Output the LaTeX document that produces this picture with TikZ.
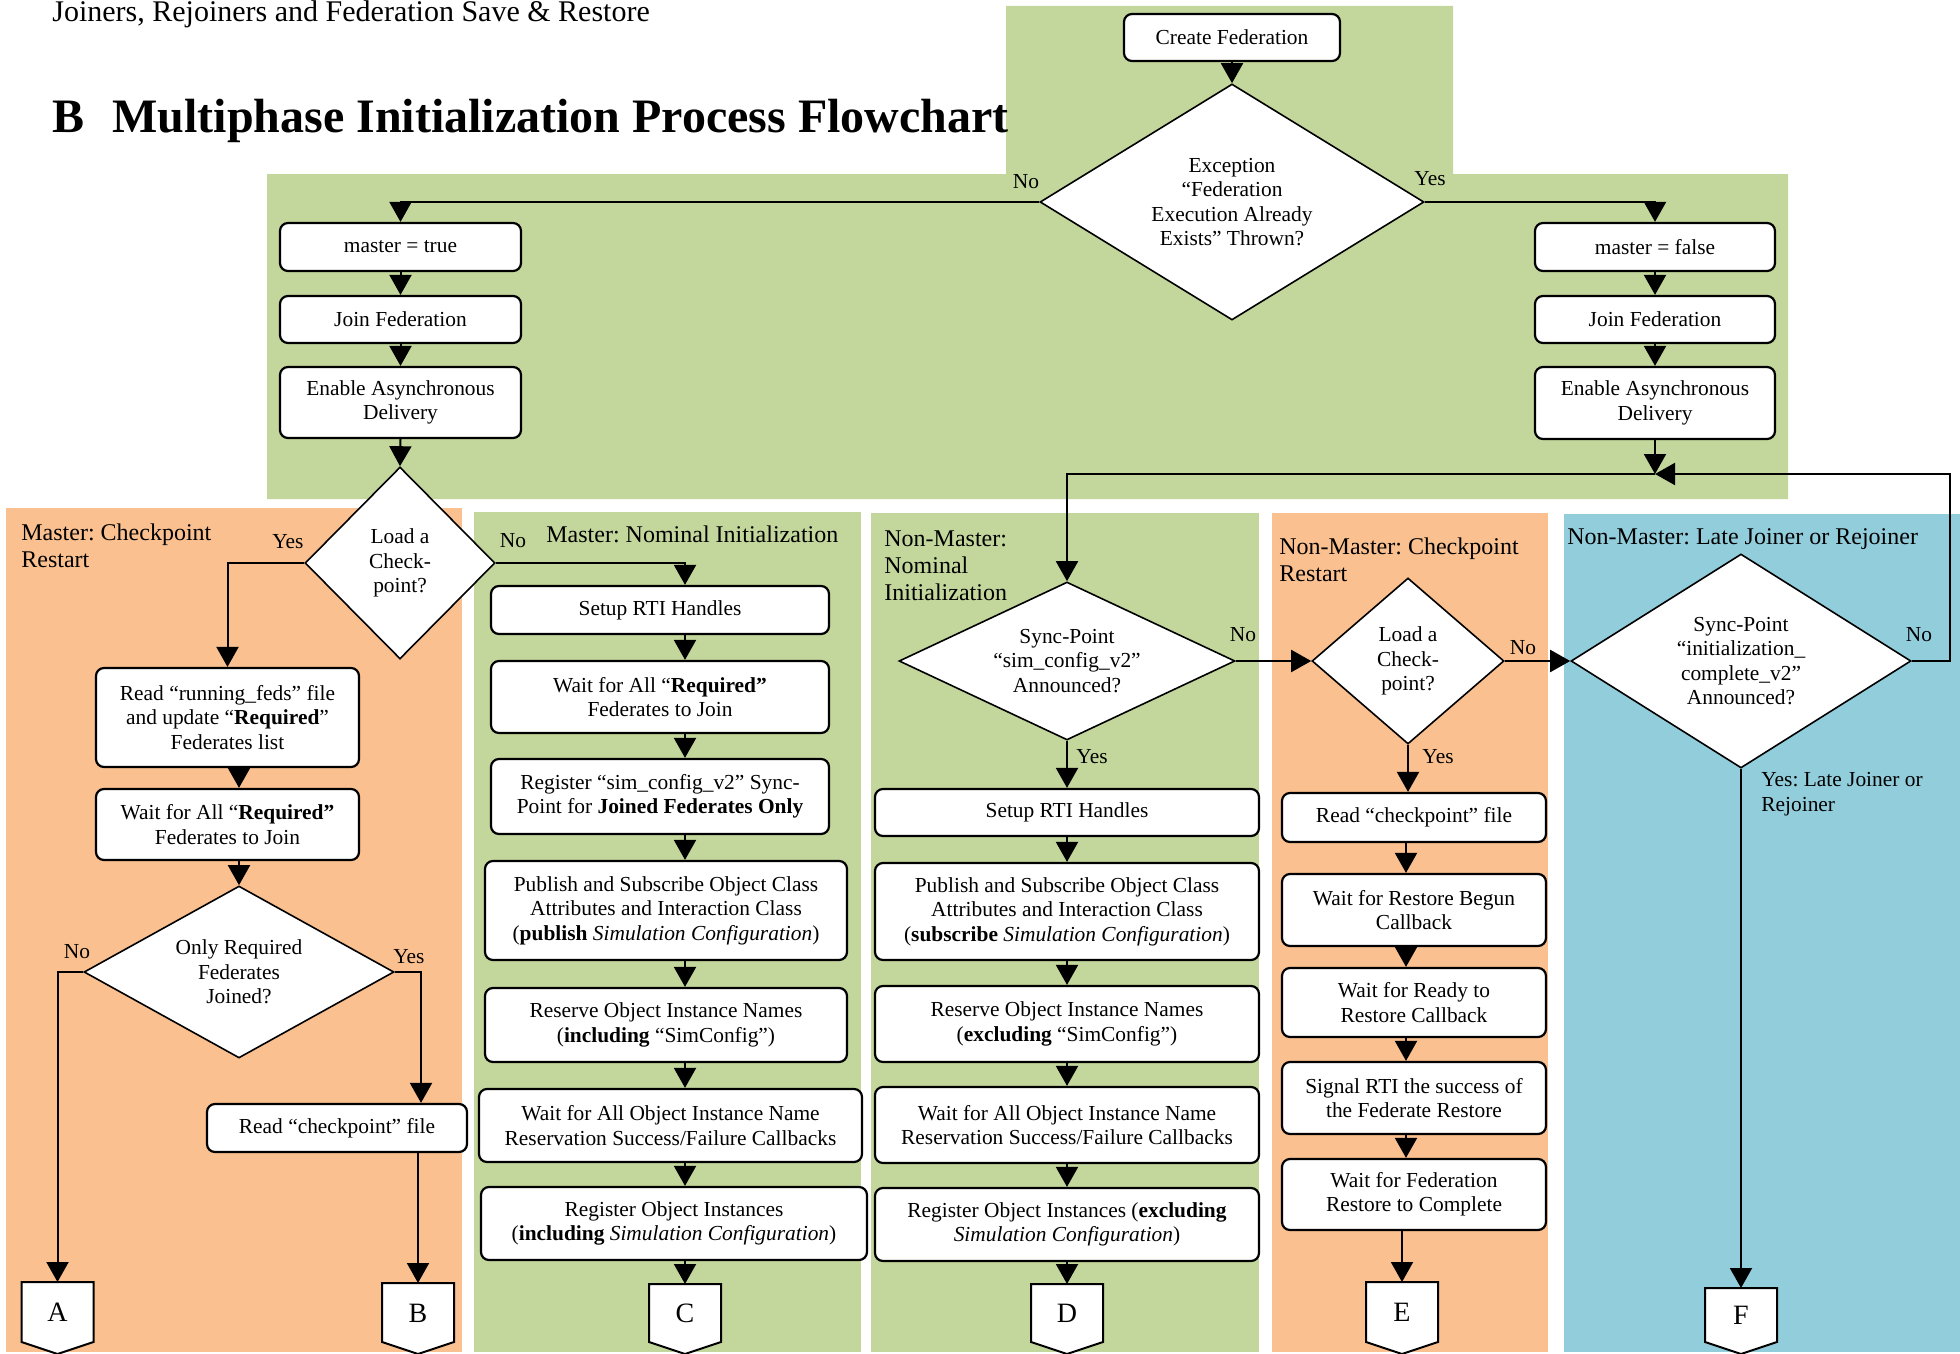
\documentclass[tikz,border=0pt]{standalone}
\usepackage{fontspec}
\setmainfont{Liberation Serif}
\usetikzlibrary{arrows.meta,shapes.geometric,calc}
\frenchspacing

\definecolor{laneGreen}{HTML}{C3D69B}
\definecolor{laneOrange}{HTML}{FAC090}
\definecolor{laneBlue}{HTML}{92CDDC}

\tikzset{
  x=0.5pt, y=-0.5pt,
  every node/.style={font=\fontsize{10.7}{12.2}\selectfont},
  procbox/.style={draw, line width=1.1pt, rounded corners=4pt, fill=white,
    align=center, inner sep=0pt},
  decision/.style={diamond, draw, line width=0.8pt, fill=white,
    align=center, inner sep=0pt},
  arr/.style={-{Triangle[length=10pt,width=11pt]}, line width=1pt},
  link/.style={line width=1pt},
  lanetitle/.style={font=\fontsize{12}{13.6}\selectfont, align=left, inner sep=0pt, anchor=west},
  lbl/.style={inner sep=0pt},
  pagelink/.style={inner sep=0pt, minimum width=36pt, anchor=north,
    font=\fontsize{14}{16}\selectfont}
}

% process box from its corner coordinates
\newcommand\flowbox[6]{%
  \pgfmathsetmacro\fbcx{(#2+#4)/2}%
  \pgfmathsetmacro\fbcy{(#3+#5)/2}%
  \pgfmathsetmacro\fbw{(#4-#2)/2}%
  \pgfmathsetmacro\fbh{(#5-#3)/2}%
  \node[procbox,minimum width=\fbw pt,minimum height=\fbh pt] (#1) at (\fbcx,\fbcy) {#6};}

% decision diamond: centre and half sizes
\newcommand\decision[6]{%
  \pgfmathsetmacro\dcasp{#4/#5}%
  \node[decision,minimum width=#4pt,minimum height=#5pt,shape aspect=\dcasp] (#1) at (#2,#3) {#6};}

% off-page connector: name, centre x, top y, letter
\newcommand\offpage[4]{%
  \draw[link,fill=white] (#2-36,#3) -- (#2+36,#3) -- (#2+36,1342) -- (#2,1354) -- (#2-36,1342) -- cycle;
  \pgfmathsetmacro\opth{(1342-#3)/2}%
  \node[pagelink,minimum height=\opth pt] (#1) at (#2,#3) {#4};}

\begin{document}
\begin{tikzpicture}
\useasboundingbox (0,0) rectangle (1960,1354);

% swimlane backgrounds
\fill[laneGreen] (1006,6) -- (1453,6) -- (1453,174) -- (1788,174) -- (1788,499)
  -- (267,499) -- (267,174) -- (1006,174) -- cycle;
\fill[laneOrange] (6,508) rectangle (462,1352);
\fill[laneGreen] (474,512) rectangle (861,1352);
\fill[laneGreen] (871,513) rectangle (1259,1352);
\fill[laneOrange] (1272,513) rectangle (1548,1352);
\fill[laneBlue] (1564,514) rectangle (1960,1352);

% headings
\node[anchor=base west, inner sep=0pt, font=\fontsize{15}{18}\selectfont] (hdr) at (52,22)
  {Joiners, Rejoiners and Federation Save \& Restore};
\node[anchor=base west, inner sep=0pt, font=\fontsize{24}{28}\selectfont\bfseries] (ttl) at (52,133)
  {B\hspace{14pt}Multiphase Initialization Process Flowchart};

% lane titles
\node[lanetitle] (tMC) at (21,546) {Master: Checkpoint\\Restart};
\node[lanetitle] (tMN) at (546,534) {Master: Nominal Initialization};
\node[lanetitle] (tNN) at (884,566) {Non-Master:\\Nominal\\Initialization};
\node[lanetitle] (tNC) at (1279,560) {Non-Master: Checkpoint\\Restart};
\node[lanetitle] (tNL) at (1567,539) {Non-Master: Late Joiner or Rejoiner};

% federation creation and joining
\flowbox{create}{1124}{14}{1340}{61}{Create Federation}
\decision{exc}{1232}{202}{192}{118}{Exception\\“Federation\\Execution Already\\Exists” Thrown?}
\flowbox{mtrue}{280}{223}{521}{271}{master = true}
\flowbox{join1}{280}{296}{521}{343}{Join Federation}
\flowbox{async1}{280}{367}{521}{438}{Enable Asynchronous\\Delivery}
\flowbox{mfalse}{1535}{223}{1775}{271}{master = false}
\flowbox{join2}{1535}{296}{1775}{343}{Join Federation}
\flowbox{async2}{1535}{367}{1775}{439}{Enable Asynchronous\\Delivery}
\coordinate (J) at (1655,474);
\coordinate (Rt) at (1950,474);

% master: checkpoint restart
\decision{load1}{400}{563}{95}{96}{Load a\\Check-\\point?}
\flowbox{rf}{96}{668}{359}{767}{Read “running\_feds” file\\and update “\textbf{Required}”\\Federates list}
\flowbox{wr}{96}{789}{359}{860}{Wait for All “\textbf{Required”}\\Federates to Join}
\decision{onlyreq}{239}{972}{155}{86}{Only Required\\Federates\\Joined?}
\flowbox{rc1}{207}{1104}{467}{1152}{Read “checkpoint” file}
\offpage{A}{57.5}{1282}{A}
\offpage{B}{418}{1283}{B}
\coordinate (xA) at (239,0);
\coordinate (xB) at (421,0);

% master: nominal initialization
\flowbox{s1}{491}{586}{829}{634}{Setup RTI Handles}
\flowbox{wq1}{491}{661}{829}{733}{Wait for All “\textbf{Required”}\\Federates to Join}
\flowbox{rs1}{491}{759}{829}{834}{Register “sim\_config\_v2” Sync-\\Point for \textbf{Joined Federates Only}}
\flowbox{ps1}{485}{861}{847}{960}{Publish and Subscribe Object Class\\Attributes and Interaction Class\\(\textbf{publish} \textit{Simulation Configuration})}
\flowbox{ro1}{485}{988}{847}{1062}{Reserve Object Instance Names\\(\textbf{including} “SimConfig”)}
\flowbox{wo1}{479}{1089}{862}{1162}{Wait for All Object Instance Name\\Reservation Success/Failure Callbacks}
\flowbox{ri1}{481}{1187}{867}{1260}{Register Object Instances\\(\textbf{including} \textit{Simulation Configuration})}
\offpage{C}{685}{1284}{C}
\coordinate (xC) at (685,0);

% non-master: nominal initialization
\decision{sync1}{1067}{661}{168}{79}{Sync-Point\\“sim\_config\_v2”\\Announced?}
\flowbox{s2}{875}{789}{1259}{836}{Setup RTI Handles}
\flowbox{ps2}{875}{863}{1259}{960}{Publish and Subscribe Object Class\\Attributes and Interaction Class\\(\textbf{subscribe} \textit{Simulation Configuration})}
\flowbox{ro2}{875}{986}{1259}{1062}{Reserve Object Instance Names\\(\textbf{excluding} “SimConfig”)}
\flowbox{wo2}{875}{1087}{1259}{1163}{Wait for All Object Instance Name\\Reservation Success/Failure Callbacks}
\flowbox{ri2}{875}{1188}{1259}{1261}{Register Object Instances (\textbf{excluding}\\\textit{Simulation Configuration})}
\offpage{D}{1067}{1284}{D}

% non-master: checkpoint restart
\decision{load2}{1408}{661}{96}{83}{Load a\\Check-\\point?}
\flowbox{rc2}{1282}{793}{1546}{842}{Read “checkpoint” file}
\flowbox{wb}{1282}{874}{1546}{946}{Wait for Restore Begun\\Callback}
\flowbox{wy}{1282}{968}{1546}{1037}{Wait for Ready to\\Restore Callback}
\flowbox{sg}{1282}{1062}{1546}{1134}{Signal RTI the success of\\the Federate Restore}
\flowbox{wf}{1282}{1159}{1546}{1230}{Wait for Federation\\Restore to Complete}
\offpage{E}{1402}{1282}{E}
\coordinate (xE) at (1406,0);

% non-master: late joiner or rejoiner
\decision{late}{1741}{661}{170}{107}{Sync-Point\\“initialization\_\\complete\_v2”\\Announced?}
\offpage{F}{1741}{1288}{F}

% connectors: top section
\draw[arr] (create.south) -- (exc.north);
\draw[arr] (exc.west) -| (mtrue.north);
\draw[arr] (exc.east) -| (mfalse.north);
\draw[arr] (mtrue.south) -- (join1.north);
\draw[arr] (join1.south) -- (async1.north);
\draw[arr] (async1.south) -- (load1.north);
\draw[arr] (mfalse.south) -- (join2.north);
\draw[arr] (join2.south) -- (async2.north);
\draw[arr] (async2.south) -- (J);
\draw[arr] (J) -| (sync1.north);
\draw[arr] (late.east) -| (Rt) -- (J);

% connectors: master checkpoint restart
\draw[arr] (load1.west) -| (rf.north);
\draw[arr] (rf.south -| xA) -- (wr.north -| xA);
\draw[arr] (wr.south -| xA) -- (onlyreq.north);
\draw[arr] (onlyreq.west) -| (A.north);
\draw[arr] (onlyreq.east) -| (xB |- rc1.north);
\draw[arr] (rc1.south -| B.north) -- (B.north);

% connectors: master nominal
\draw[arr] (load1.east) -| (xC |- s1.north);
\draw[arr] (s1.south -| xC) -- (wq1.north -| xC);
\draw[arr] (wq1.south -| xC) -- (rs1.north -| xC);
\draw[arr] (rs1.south -| xC) -- (ps1.north -| xC);
\draw[arr] (ps1.south -| xC) -- (ro1.north -| xC);
\draw[arr] (ro1.south -| xC) -- (wo1.north -| xC);
\draw[arr] (wo1.south -| xC) -- (ri1.north -| xC);
\draw[arr] (ri1.south -| C.north) -- (C.north);

% connectors: non-master nominal
\draw[arr] (sync1.south) -- (sync1.south |- s2.north);
\draw[arr] (s2.south -| D.north) -- (ps2.north -| D.north);
\draw[arr] (ps2.south -| D.north) -- (ro2.north -| D.north);
\draw[arr] (ro2.south -| D.north) -- (wo2.north -| D.north);
\draw[arr] (wo2.south -| D.north) -- (ri2.north -| D.north);
\draw[arr] (ri2.south -| D.north) -- (D.north);
\draw[arr] (sync1.east) -- (load2.west);

% connectors: non-master checkpoint restart
\draw[arr] (load2.east) -- (late.west);
\draw[arr] (load2.south) -- (load2.south |- rc2.north);
\draw[arr] (rc2.south -| xE) -- (wb.north -| xE);
\draw[arr] (wb.south -| xE) -- (wy.north -| xE);
\draw[arr] (wy.south -| xE) -- (sg.north -| xE);
\draw[arr] (sg.south -| xE) -- (wf.north -| xE);
\draw[arr] (wf.south -| E.north) -- (E.north);

% connectors: late joiner
\draw[arr] (late.south) -- (F.north);

% branch labels
\node[lbl] (lExcNo) at (1026,182) {No};
\node[lbl] (lExcYes) at (1430,179) {Yes};
\node[lbl] (lL1Yes) at (288,542) {Yes};
\node[lbl] (lL1No) at (513,541) {No};
\node[lbl] (lOrNo) at (77,952) {No};
\node[lbl] (lOrYes) at (409,957) {Yes};
\node[lbl] (lS1No) at (1243,635) {No};
\node[lbl] (lS1Yes) at (1092,757) {Yes};
\node[lbl] (lL2No) at (1523,648) {No};
\node[lbl] (lL2Yes) at (1438,757) {Yes};
\node[lbl] (lLtNo) at (1919,635) {No};
\node[lbl, align=left, anchor=west] (lLtYes) at (1761,794) {Yes: Late Joiner or\\Rejoiner};
\end{tikzpicture}
\end{document}
